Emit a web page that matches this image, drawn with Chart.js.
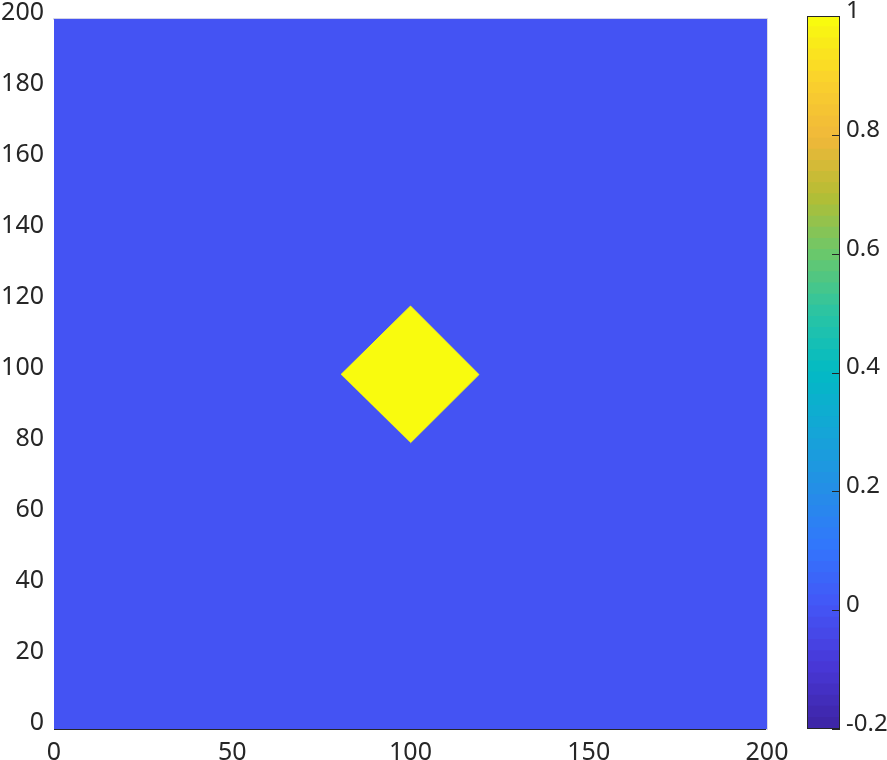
<!DOCTYPE html>
<html>
<head>
<meta charset="utf-8">
<script src="https://cdn.jsdelivr.net/npm/chart.js@4"></script>
<style>
  html, body { margin: 0; padding: 0; background: #fff; }
  #wrap { position: relative; width: 887px; height: 760px; }
  #mainChart { position: absolute; left: 0; top: 0; }
  #barChart { position: absolute; left: 787px; top: 0; }
</style>
</head>
<body>
<div id="wrap">
  <canvas id="mainChart" width="887" height="760"></canvas>
  <canvas id="barChart" width="100" height="760"></canvas>
</div>
<script>
// field values
const xRange = [0, 200];
const yRange = [0, 200];
const backgroundValue = 0;
const diamondValue = 1;
const backgroundX = [0, 200, 200, 0];
const backgroundY = [0, 0, 200, 200];
const diamondX = [80.5, 100, 119.2, 100];
const diamondY = [99.8, 119.1, 99.8, 80.6];

// axes / colorbar
const xTickStep = 50;
const yTickStep = 20;
const colorLimits = [-0.2, 1];
const colorbarTickStep = 0.2;

const textColor = '#262626';
const fontFamily = '"Noto Sans", "DejaVu Sans", sans-serif';

// parula-like colormap anchors
const parulaStops = [
    [0.000, [62, 38, 168]],
    [0.083, [72, 56, 216]],
    [0.167, [68, 86, 246]],
    [0.250, [50, 118, 252]],
    [0.333, [36, 143, 230]],
    [0.417, [20, 166, 214]],
    [0.500, [2, 186, 196]],
    [0.583, [42, 196, 164]],
    [0.667, [105, 200, 108]],
    [0.750, [180, 189, 52]],
    [0.833, [240, 184, 58]],
    [0.917, [250, 210, 44]],
    [1.000, [249, 251, 14]]
];

function parulaAt(t) {
    for (let i = 1; i < parulaStops.length; i++) {
        const [t1, c1] = parulaStops[i];
        const [t0, c0] = parulaStops[i - 1];
        if (t <= t1) {
            const f = (t - t0) / (t1 - t0);
            const c = c0.map((v, k) => Math.round(v + (c1[k] - v) * f));
            return 'rgb(' + c.join(',') + ')';
        }
    }
    return 'rgb(249,251,14)';
}

const colormap = [];
for (let i = 0; i < 64; i++) colormap.push(parulaAt(i / 63));

function valueColor(v) {
    const f = (v - colorLimits[0]) / (colorLimits[1] - colorLimits[0]);
    const idx = Math.max(0, Math.min(63, Math.floor(f * 64)));
    return colormap[idx];
}

function toPoints(xs, ys) {
    return xs.map((x, i) => ({ x: x, y: ys[i] }));
}

new Chart(document.getElementById('mainChart'), {
    type: 'scatter',
    data: {
        datasets: [
            {
                data: toPoints(diamondX, diamondY),
                showLine: true,
                fill: 'shape',
                backgroundColor: valueColor(diamondValue),
                borderColor: valueColor(diamondValue),
                borderWidth: 1,
                pointRadius: 0,
                tension: 0,
                order: 1
            },
            {
                data: toPoints(backgroundX, backgroundY),
                showLine: true,
                fill: 'shape',
                backgroundColor: valueColor(backgroundValue),
                borderColor: valueColor(backgroundValue),
                borderWidth: 0,
                pointRadius: 0,
                tension: 0,
                order: 2
            }
        ]
    },
    options: {
        responsive: false,
        animation: false,
        events: [],
        layout: { padding: 0 },
        plugins: {
            legend: { display: false },
            tooltip: { enabled: false }
        },
        scales: {
            x: {
                type: 'linear',
                position: 'bottom',
                min: xRange[0],
                max: xRange[1],
                grid: { display: false, drawTicks: false },
                border: { display: true, color: textColor, width: 1 },
                ticks: {
                    stepSize: xTickStep,
                    color: textColor,
                    padding: 9,
                    maxRotation: 0,
                    font: { family: fontFamily, size: 25 }
                },
                afterFit: s => { s.height = 31; }
            },
            y: {
                type: 'linear',
                position: 'left',
                min: yRange[0],
                max: yRange[1],
                grid: { display: false, drawTicks: false },
                border: { display: true, color: textColor, width: 1 },
                ticks: {
                    stepSize: yTickStep,
                    color: textColor,
                    padding: 10,
                    labelOffset: -6,
                    font: { family: fontFamily, size: 25, lineHeight: 0.7 }
                },
                afterFit: s => { s.width = 54; }
            },
            x2: {
                type: 'linear',
                position: 'top',
                min: xRange[0],
                max: xRange[1],
                grid: { display: false, drawTicks: false },
                border: { display: true, color: '#dcdce6', width: 2 },
                ticks: { display: false },
                afterFit: s => { s.height = 16; }
            },
            y2: {
                type: 'linear',
                position: 'right',
                min: yRange[0],
                max: yRange[1],
                grid: { display: false, drawTicks: false },
                border: { display: true, color: '#dcdce6', width: 2 },
                ticks: { display: false },
                afterFit: s => { s.width = 120; }
            }
        }
    }
});

// colorbar
const step = (colorLimits[1] - colorLimits[0]) / colormap.length;
const colorbarSets = colormap.map((c, i) => ({
    data: [[colorLimits[0] + i * step, colorLimits[0] + (i + 1.05) * step]],
    backgroundColor: c,
    borderWidth: 0,
    grouped: false,
    barPercentage: 1,
    categoryPercentage: 1
}));

const colorbarFrame = {
    id: 'colorbarFrame',
    afterDraw(chart) {
        const { ctx, chartArea: a, scales } = chart;
        ctx.save();
        ctx.strokeStyle = textColor;
        ctx.lineWidth = 1;
        ctx.strokeRect(a.left + 0.5, a.top + 0.5, a.right - a.left - 1, a.bottom - a.top - 1);
        scales.y.ticks.forEach(t => {
            const py = Math.round(scales.y.getPixelForValue(t.value)) + 0.5;
            ctx.beginPath();
            ctx.moveTo(a.right, py);
            ctx.lineTo(a.right - 8, py);
            ctx.stroke();
        });
        ctx.restore();
    }
};

new Chart(document.getElementById('barChart'), {
    type: 'bar',
    data: {
        labels: ['c'],
        datasets: colorbarSets
    },
    options: {
        responsive: false,
        animation: false,
        events: [],
        layout: { padding: { left: 20, top: 16, bottom: 31, right: 0 } },
        plugins: {
            legend: { display: false },
            tooltip: { enabled: false }
        },
        scales: {
            x: { display: false },
            y: {
                position: 'right',
                min: colorLimits[0],
                max: colorLimits[1],
                grid: { display: false, drawTicks: false },
                border: { display: false },
                ticks: {
                    stepSize: colorbarTickStep,
                    color: textColor,
                    padding: 6,
                    labelOffset: -5,
                    font: { family: fontFamily, size: 24, lineHeight: 0.7 },
                    callback: v => String(+v.toFixed(2))
                },
                afterFit: s => { s.width = 47; }
            }
        }
    },
    plugins: [colorbarFrame]
});
</script>
</body>
</html>
